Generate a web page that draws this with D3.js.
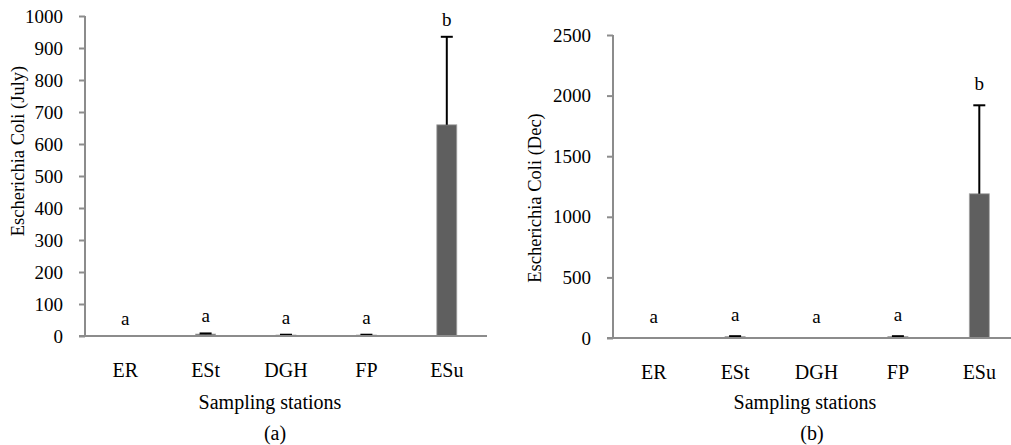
<!DOCTYPE html>
<html>
<head>
<meta charset="utf-8">
<script src="https://cdn.jsdelivr.net/npm/d3@7"></script>
<style>
  body { margin: 0; background: #fff; }
  svg { display: block; font-family: "Liberation Serif", "Times New Roman", serif; }
</style>
</head>
<body>
<div id="chart"></div>
<script>
var categories = ['ER', 'ESt', 'DGH', 'FP', 'ESu'];

var julyValues = [0, 6, 3, 3, 660];
var julyErrors = [0, 2, 1, 1, 275];
var julyLetters = ['a', 'a', 'a', 'a', 'b'];
var julyTicks = [0, 100, 200, 300, 400, 500, 600, 700, 800, 900, 1000];

var decValues = [0, 12, 0, 12, 1190];
var decErrors = [0, 3, 0, 3, 730];
var decLetters = ['a', 'a', 'a', 'a', 'b'];
var decTicks = [0, 500, 1000, 1500, 2000, 2500];

var svg = d3.select('#chart').append('svg')
	.attr('width', 1011)
	.attr('height', 445);

function drawPanel(p) {
	var yScale = d3.scaleLinear()
		.domain([0, d3.max(p.ticks)])
		.range([p.bottom, p.top]);

	var xScale = d3.scaleBand()
		.domain(categories)
		.range([p.left, p.right]);

	var rows = categories.map(function(c, i) {
		return {cat: c, value: p.values[i], err: p.errors[i], letter: p.letters[i]};
	});
	function cx(d) { return xScale(d.cat) + xScale.bandwidth() / 2; }

	var g = svg.append('g');

	// bars
	g.selectAll('rect.bar').data(rows)
		.enter().append('rect')
		.attr('class', 'bar')
		.attr('x', function(d) { return cx(d) - 10; })
		.attr('width', 20)
		.attr('y', function(d) { return yScale(d.value); })
		.attr('height', function(d) { return p.bottom - yScale(d.value); })
		.style('fill', '#5f5f5f')
		.style('stroke', '#a6a6a6')
		.style('stroke-width', 0.8);

	// error bars (upper only)
	var err = g.selectAll('g.err').data(rows.filter(function(d) { return d.err > 0; }))
		.enter().append('g')
		.attr('class', 'err');
	err.append('line')
		.attr('x1', cx).attr('x2', cx)
		.attr('y1', function(d) { return yScale(d.value); })
		.attr('y2', function(d) { return yScale(d.value + d.err); })
		.style('stroke', '#000')
		.style('stroke-width', 2);
	err.append('line')
		.attr('x1', function(d) { return cx(d) - 6; })
		.attr('x2', function(d) { return cx(d) + 6; })
		.attr('y1', function(d) { return yScale(d.value + d.err); })
		.attr('y2', function(d) { return yScale(d.value + d.err); })
		.style('stroke', '#000')
		.style('stroke-width', 2);

	// significance letters
	g.selectAll('text.letter').data(rows)
		.enter().append('text')
		.attr('class', 'letter')
		.attr('x', cx)
		.attr('y', function(d) { return yScale(d.value + d.err) - p.letterGap; })
		.attr('text-anchor', 'middle')
		.style('font-size', '19px')
		.text(function(d) { return d.letter; });

	// y axis
	var yAxis = d3.axisLeft(yScale)
		.tickValues(p.ticks)
		.tickSize(6)
		.tickPadding(16)
		.tickFormat(d3.format('d'));
	var yGuide = svg.append('g')
		.attr('transform', 'translate(' + p.left + ',0)')
		.call(yAxis);
	yGuide.select('.domain').remove();
	yGuide.selectAll('line').style('stroke', '#8c8c8c').style('stroke-width', 2);
	yGuide.selectAll('text')
		.style('font-family', '"Liberation Serif", serif')
		.style('font-size', '19px')
		.style('fill', '#000');
	svg.append('line')
		.attr('x1', p.left).attr('x2', p.left)
		.attr('y1', p.top).attr('y2', p.bottom)
		.style('stroke', '#8c8c8c').style('stroke-width', 2);

	// x axis
	var xAxis = d3.axisBottom(xScale).tickSize(0).tickPadding(27);
	var xGuide = svg.append('g')
		.attr('transform', 'translate(0,' + p.bottom + ')')
		.call(xAxis);
	xGuide.select('.domain').remove();
	xGuide.selectAll('text')
		.style('font-family', '"Liberation Serif", serif')
		.style('font-size', '20px')
		.style('fill', '#000');
	svg.append('line')
		.attr('x1', p.left - 6).attr('x2', p.right)
		.attr('y1', p.bottom).attr('y2', p.bottom)
		.style('stroke', '#8c8c8c').style('stroke-width', 2);

	// titles
	svg.append('text')
		.attr('transform', 'translate(' + p.yTitleX + ',' + p.yTitleY + ') rotate(-90)')
		.attr('text-anchor', 'middle')
		.attr('dy', '0.35em')
		.style('font-size', '18.5px')
		.text(p.yTitle);
	svg.append('text')
		.attr('x', p.xTitleX).attr('y', 409)
		.attr('text-anchor', 'middle')
		.style('font-size', '20px')
		.text('Sampling stations');
	svg.append('text')
		.attr('x', p.panelX).attr('y', 440)
		.attr('text-anchor', 'middle')
		.style('font-size', '20px')
		.text(p.panel);
}

drawPanel({
	values: julyValues, errors: julyErrors, letters: julyLetters, ticks: julyTicks,
	left: 85, right: 487, top: 16, bottom: 336, letterGap: 11,
	yTitle: 'Escherichia Coli (July)', yTitleX: 18, yTitleY: 151,
	xTitleX: 270, panel: '(a)', panelX: 275
});

drawPanel({
	values: decValues, errors: decErrors, letters: decLetters, ticks: decTicks,
	left: 613, right: 1020, top: 35, bottom: 338, letterGap: 15,
	yTitle: 'Escherichia Coli (Dec)', yTitleX: 535, yTitleY: 198,
	xTitleX: 805, panel: '(b)', panelX: 812
});
</script>
</body>
</html>
